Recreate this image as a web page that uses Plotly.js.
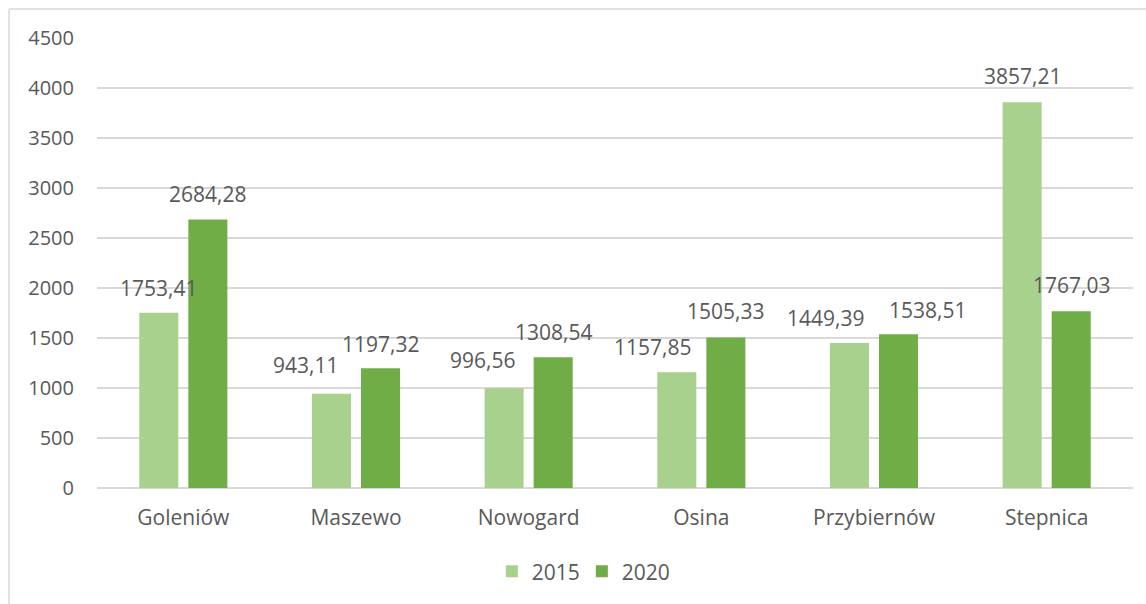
<!DOCTYPE html>
<html>
<head>
<meta charset="utf-8">
<script src="https://cdn.plot.ly/plotly-3.0.1.min.js"></script>
<style>
html,body{margin:0;padding:0;background:#fff;}
#chart{width:1146px;height:604px;}
</style>
</head>
<body>
<div id="chart"></div>
<script>
// Data
var categories = ['Goleniów', 'Maszewo', 'Nowogard', 'Osina', 'Przybiernów', 'Stepnica'];
var values2015 = [1753.41, 943.11, 996.56, 1157.85, 1449.39, 3857.21];
var values2020 = [2684.28, 1197.32, 1308.54, 1505.33, 1538.51, 1767.03];
var seriesNames = ['2015', '2020'];

// label nudges (pixels), as placed in the original
var nudgeX2015 = [0, -26, -22, -24, -24, 0];
var nudgeY2015 = [25, 29, 28, 25, 25, 26];
var nudgeX2020 = [0, 0, 0, 0, 29, 0];
var nudgeY2020 = [26, 24, 25, 26, 24, 26];

var fmt = function (v) { return v.toFixed(2).replace('.', ','); };
var textColor = '#595959';
var fontFam = 'Open Sans, sans-serif';

var traces = [
  {type: 'bar', name: seriesNames[0], x: categories, y: values2015,
   marker: {color: '#A9D18E'}, hoverinfo: 'x+y'},
  {type: 'bar', name: seriesNames[1], x: categories, y: values2020,
   marker: {color: '#70AD47'}, hoverinfo: 'x+y'}
];

var annotations = [];
categories.forEach(function (c, i) {
  annotations.push({x: c, y: values2015[i], xref: 'x', yref: 'y', text: fmt(values2015[i]),
    showarrow: false, xanchor: 'center', yanchor: 'middle',
    xshift: -24.5 + nudgeX2015[i], yshift: nudgeY2015[i],
    font: {family: fontFam, size: 21, color: textColor}});
  annotations.push({x: c, y: values2020[i], xref: 'x', yref: 'y', text: fmt(values2020[i]),
    showarrow: false, xanchor: 'center', yanchor: 'middle',
    xshift: 24.5 + nudgeX2020[i], yshift: nudgeY2020[i],
    font: {family: fontFam, size: 21, color: textColor}});
});

var layout = {
  width: 1146, height: 604, autosize: false,
  margin: {l: 97, r: 13, t: 38, b: 114, pad: 0},
  paper_bgcolor: '#ffffff', plot_bgcolor: '#ffffff',
  font: {family: fontFam, size: 20, color: textColor},
  barmode: 'group', bargap: 0.432, bargroupgap: 0.204,
  xaxis: {type: 'category', showgrid: false, showline: false, zeroline: false,
    ticks: '', ticklabelstandoff: 15, tickfont: {family: fontFam, size: 21, color: textColor}},
  yaxis: {range: [0, 4500], tickvals: [0, 500, 1000, 1500, 2000, 2500, 3000, 3500, 4000, 4500],
    showgrid: true, gridcolor: '#d9d9d9', gridwidth: 1.3, zeroline: true, zerolinecolor: '#d9d9d9',
    zerolinewidth: 1.3, showline: false, ticks: '', ticklabelstandoff: 22,
    tickfont: {family: fontFam, size: 20, color: textColor}},
  legend: {orientation: 'h', x: 0.468, xanchor: 'center', y: -0.186, yanchor: 'middle',
    entrywidth: 45, entrywidthmode: 'pixels', itemwidth: 30,
    font: {family: fontFam, size: 21, color: textColor}, itemclick: false, traceorder: 'normal'},
  showlegend: true,
  annotations: annotations,
  shapes: [
    {type: 'line', xref: 'paper', yref: 'paper', x0: -0.0849, x1: -0.0849, y0: 1.0642, y1: -0.3,
     line: {color: '#d9d9d9', width: 1.5}},
    {type: 'line', xref: 'paper', yref: 'paper', x0: -0.0849, x1: 1.02, y0: 1.0642, y1: 1.0642,
     line: {color: '#d9d9d9', width: 1.5}}
  ]
};

Plotly.newPlot('chart', traces, layout, {displayModeBar: false, staticPlot: true});
</script>
</body>
</html>
